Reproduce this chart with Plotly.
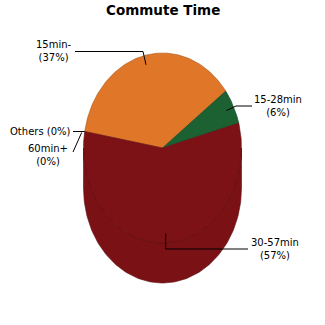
import numpy as np
import plotly.graph_objects as go

# Data
categories = ["15min-", "15-28min", "30-57min", "60min+", "Others"]
percents = [37, 6, 57, 0, 0]
colors = ["#DF7628", "#1C6131", "#7C1216", "#3F51B5", "#888888"]
edge_colors = ["#A8561C", "#134522", "#5E0D10", "#2F3D88", "#666666"]
side_colors = ["#C9691F", "#174F28", "#7A1115", "#33449A", "#777777"]
title = "Commute Time"

# Geometry (pixel space)
CX, CY, RX, RY, DEPTH = 162.5, 148.0, 79.0, 95.0, 40.0
START = 170.0  # parametric degrees, slices run clockwise

def pt(theta_deg, f=1.0, dy=0.0):
    t = np.radians(theta_deg)
    return CX + RX * f * np.cos(t), CY - RY * f * np.sin(t) + dy

fig = go.Figure()

total = float(sum(percents))
bounds = []
a = START
for p in percents:
    span = 360.0 * p / total
    bounds.append((a, a - span))
    a -= span

# side walls (front visible half: theta in [-180, 0] modulo 360)
for i, (a0, a1) in enumerate(bounds):
    if percents[i] == 0:
        continue
    for shift in (0, -360, 360):
        lo = max(a1 + shift, -180)
        hi = min(a0 + shift, 0)
        if hi > lo:
            th = np.linspace(hi, lo, 120)
            xs_t, ys_t = pt(th)
            xs_b, ys_b = pt(th[::-1], dy=DEPTH)
            xs = np.concatenate([xs_t, xs_b, [xs_t[0]]])
            ys = np.concatenate([ys_t, ys_b, [ys_t[0]]])
            fig.add_trace(go.Scatter(x=xs, y=ys, mode="lines", fill="toself",
                                     fillcolor=side_colors[i],
                                     line=dict(color=edge_colors[i], width=0.6),
                                     hoverinfo="skip", showlegend=False))

# top slices
for i, (a0, a1) in enumerate(bounds):
    if percents[i] == 0:
        continue
    th = np.linspace(a0, a1, 200)
    xs, ys = pt(th)
    xs = np.concatenate([[CX], xs, [CX]])
    ys = np.concatenate([[CY], ys, [CY]])
    fig.add_trace(go.Scatter(x=xs, y=ys, mode="lines", fill="toself",
                             fillcolor=colors[i],
                             line=dict(color=edge_colors[i], width=0.6),
                             hoverinfo="skip", showlegend=False))

# faint rim line where top meets side
th = np.linspace(-180, 0, 200)
xs, ys = pt(th)
fig.add_trace(go.Scatter(x=xs, y=ys, mode="lines",
                         line=dict(color="#6E0F13", width=0.7),
                         hoverinfo="skip", showlegend=False))

# labels and leader lines
label_pos = [(54, 51), (278, 106), (275, 249), (48, 155), (40, 131)]
label_text = ["15min-<br>(37%)", "15-28min<br>(6%)", "30-57min<br>(57%)",
              "60min+<br>(0%)", "Others (0%)"]
for i, (a0, a1) in enumerate(bounds):
    mid = (a0 + a1) / 2.0
    f = 0.9 if percents[i] > 0 else 1.0
    ax_, ay_ = pt(mid, f)
    lx, ly = label_pos[i]
    if i == 0:
        lxs, lys = [ax_, ax_ - 3, 75], [ay_, 51.5, 51.5]
    elif i == 1:
        lxs, lys = [ax_, 236, 252], [ay_, 106, 106]
    elif i == 2:
        lxs, lys = [ax_, ax_, 248], [ay_, 249, 249]
    elif i == 3:
        lxs, lys = [ax_ - 3, 73], [ay_ + 1, 152]
    else:
        lxs, lys = [ax_, 73], [ay_, ay_]
    fig.add_trace(go.Scatter(x=lxs, y=lys, mode="lines",
                             line=dict(color="black", width=1),
                             hoverinfo="skip", showlegend=False))
    fig.add_annotation(x=lx, y=ly, text=label_text[i], showarrow=False,
                       xanchor="center", yanchor="middle", align="center",
                       font=dict(family="DejaVu Sans", size=10, color="black"))

fig.add_annotation(x=162.5, y=9.5, text="<b>" + title + "</b>", showarrow=False,
                   xanchor="center", yanchor="middle",
                   font=dict(family="DejaVu Sans", size=13.5, color="black"))

fig.update_layout(
    width=325, height=325,
    margin=dict(l=0, r=0, t=0, b=0),
    paper_bgcolor="white", plot_bgcolor="white",
    xaxis=dict(range=[0, 325], visible=False, fixedrange=True),
    yaxis=dict(range=[325, 0], visible=False, fixedrange=True),
    showlegend=False,
)
fig.write_html("out.html")
